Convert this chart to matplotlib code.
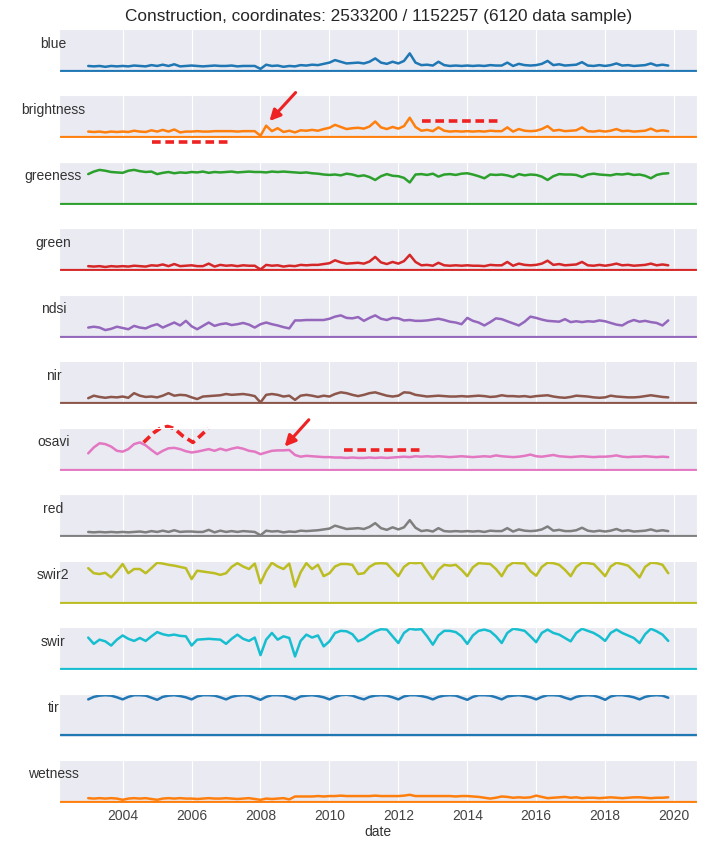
import pandas as pd
import matplotlib
matplotlib.use("Agg")
import matplotlib.pyplot as plt
import matplotlib.dates as mdates
import seaborn as sns

"""
Sample time series for one construction pixel, one panel per band / index.
Values are normalised to the panel range (0 - 1).
"""

dates = pd.date_range("2003-01-01", periods=102, freq="2MS")

bands = ["blue", "brightness", "greeness", "green", "ndsi", "nir",
         "osavi", "red", "swir2", "swir", "tir", "wetness"]

blue = [.12, .11, .12, .10, .12, .11, .12, .11, .13, .12, .11, .14,
        .12, .15, .12, .16, .11, .12, .13, .12, .11, .12, .13, .12,
        .12, .13, .11, .12, .12, .12, .05, .15, .12, .13, .10, .12,
        .11, .14, .13, .15, .14, .17, .20, .26, .22, .18, .19, .20,
        .18, .22, .30, .20, .17, .22, .18, .24, .42, .20, .14, .15,
        .13, .22, .14, .12, .13, .12, .13, .12, .13, .12, .14, .13,
        .13, .20, .12, .17, .14, .13, .14, .17, .24, .14, .16, .13,
        .14, .15, .21, .13, .12, .14, .12, .14, .18, .13, .14, .12,
        .13, .14, .18, .13, .15, .13]

brightness = [.14, .13, .14, .12, .14, .13, .14, .13, .16, .14, .13, .17,
              .14, .18, .14, .19, .12, .14, .14, .15, .14, .14, .15, .15,
              .15, .15, .14, .15, .15, .15, .04, .28, .15, .22, .13, .16,
              .12, .17, .16, .18, .16, .20, .23, .30, .25, .20, .22, .23,
              .21, .26, .38, .24, .20, .25, .21, .27, .47, .25, .16, .18,
              .15, .24, .16, .14, .15, .14, .15, .14, .15, .14, .16, .15,
              .15, .24, .14, .20, .16, .15, .16, .20, .27, .16, .18, .15,
              .16, .17, .24, .15, .14, .16, .14, .16, .20, .15, .16, .14,
              .15, .16, .21, .15, .17, .15]

greeness = [.71, .77, .81, .79, .76, .75, .74, .79, .81, .78, .76, .77,
            .71, .74, .76, .73, .75, .74, .76, .75, .77, .74, .76, .75,
            .76, .77, .75, .76, .77, .76, .76, .75, .77, .76, .77, .76,
            .75, .74, .75, .73, .72, .70, .69, .70, .68, .72, .70, .66,
            .68, .64, .57, .66, .71, .67, .66, .62, .51, .70, .71, .69,
            .72, .65, .70, .71, .69, .72, .73, .70, .66, .61, .70, .69,
            .70, .68, .64, .71, .68, .70, .69, .65, .57, .66, .71, .70,
            .70, .69, .64, .70, .72, .70, .69, .68, .71, .70, .72, .69,
            .70, .67, .61, .69, .72, .73]

green = [.10, .09, .10, .08, .10, .09, .10, .09, .11, .10, .09, .12,
         .11, .14, .10, .15, .10, .11, .12, .10, .10, .16, .09, .13,
         .11, .12, .10, .12, .11, .11, .02, .13, .11, .12, .09, .11,
         .10, .13, .12, .13, .13, .15, .17, .24, .19, .16, .17, .18,
         .16, .21, .32, .19, .15, .20, .16, .22, .37, .20, .12, .13,
         .11, .18, .12, .11, .12, .11, .12, .11, .11, .10, .13, .12,
         .12, .20, .11, .16, .13, .12, .13, .16, .23, .13, .15, .12,
         .13, .14, .20, .12, .11, .13, .11, .13, .16, .12, .13, .11,
         .12, .13, .16, .12, .14, .12]

ndsi = [.22, .24, .22, .16, .19, .24, .21, .18, .26, .22, .20, .26,
        .30, .22, .28, .34, .27, .38, .25, .18, .26, .34, .26, .30,
        .32, .28, .30, .33, .29, .22, .30, .34, .30, .27, .23, .20,
        .39, .39, .40, .40, .40, .40, .43, .48, .51, .45, .44, .47,
        .38, .45, .51, .43, .40, .45, .44, .39, .40, .38, .38, .39,
        .41, .43, .40, .36, .34, .30, .45, .38, .34, .27, .35, .44,
        .42, .37, .32, .27, .36, .48, .45, .41, .38, .37, .36, .42,
        .35, .37, .35, .37, .36, .39, .37, .33, .29, .27, .35, .40,
        .36, .38, .35, .33, .27, .39]

nir = [.12, .18, .15, .13, .15, .14, .16, .13, .24, .18, .15, .16,
       .14, .18, .24, .18, .20, .19, .14, .10, .16, .17, .18, .19,
       .22, .20, .21, .22, .20, .17, .02, .20, .22, .20, .16, .18,
       .08, .18, .20, .18, .15, .18, .16, .22, .26, .24, .20, .17,
       .20, .24, .26, .22, .18, .16, .18, .26, .25, .20, .18, .16,
       .17, .18, .17, .16, .16, .17, .16, .17, .18, .17, .15, .16,
       .19, .17, .17, .16, .17, .15, .17, .18, .19, .16, .14, .13,
       .15, .18, .17, .16, .14, .13, .14, .18, .16, .15, .14, .14,
       .15, .17, .19, .17, .15, .14]

osavi = [.39, .53, .63, .61, .55, .45, .43, .49, .61, .65, .58, .47,
         .37, .45, .51, .52, .49, .44, .41, .43, .46, .49, .45, .50,
         .46, .50, .53, .50, .45, .43, .37, .41, .45, .46, .46, .47,
         .35, .31, .33, .32, .31, .30, .30, .29, .29, .28, .29, .28,
         .28, .29, .28, .29, .28, .29, .30, .31, .30, .32, .31, .32,
         .31, .32, .31, .30, .31, .32, .31, .30, .31, .32, .31, .34,
         .32, .31, .30, .31, .33, .36, .32, .31, .33, .35, .32, .31,
         .30, .31, .32, .31, .30, .31, .31, .32, .34, .31, .30, .31,
         .31, .32, .31, .30, .31, .30]

red = [.10, .09, .10, .09, .10, .09, .10, .09, .10, .11, .09, .12,
       .10, .13, .10, .14, .10, .11, .11, .10, .10, .15, .09, .13,
       .10, .12, .10, .12, .11, .10, .02, .13, .11, .12, .09, .11,
       .10, .13, .12, .13, .14, .16, .18, .25, .21, .17, .18, .19,
       .17, .22, .31, .19, .15, .21, .16, .21, .38, .20, .12, .14,
       .11, .19, .12, .11, .12, .11, .12, .11, .12, .10, .13, .12,
       .12, .19, .11, .16, .13, .12, .13, .16, .23, .13, .15, .12,
       .12, .14, .20, .13, .11, .13, .11, .13, .17, .12, .14, .11,
       .12, .13, .16, .12, .14, .12]

swir2 = [.82, .70, .68, .71, .60, .75, .92, .70, .80, .80, .70, .82,
         .95, .93, .90, .88, .85, .82, .56, .76, .74, .72, .70, .66,
         .70, .85, .94, .86, .80, .93, .46, .75, .95, .86, .80, .93,
         .38, .72, .94, .80, .90, .63, .70, .86, .92, .92, .90, .68,
         .70, .85, .93, .94, .93, .78, .63, .85, .95, .94, .95, .75,
         .56, .78, .90, .88, .90, .78, .63, .84, .94, .93, .92, .80,
         .63, .86, .95, .94, .93, .75, .64, .85, .95, .94, .90, .78,
         .63, .85, .95, .94, .92, .78, .63, .86, .95, .92, .88, .75,
         .60, .85, .95, .94, .90, .70]

swir = [.75, .60, .70, .66, .56, .70, .80, .72, .67, .74, .67, .78,
        .88, .83, .80, .82, .79, .78, .56, .70, .71, .72, .71, .70,
        .60, .72, .82, .72, .67, .75, .33, .70, .86, .70, .78, .74,
        .30, .67, .82, .75, .80, .54, .66, .86, .91, .90, .83, .66,
        .72, .82, .90, .95, .94, .78, .62, .86, .96, .94, .95, .78,
        .58, .80, .91, .91, .88, .78, .60, .80, .91, .94, .90, .78,
        .62, .86, .96, .94, .91, .78, .64, .86, .94, .86, .82, .74,
        .66, .86, .96, .91, .86, .78, .67, .86, .94, .86, .80, .74,
        .62, .83, .96, .90, .82, .67]

tir = [.86, .92, .95, .96, .95, .91, .86, .92, .96, .96, .95, .90,
       .85, .92, .95, .96, .94, .91, .86, .93, .96, .96, .95, .91,
       .86, .92, .95, .96, .95, .90, .85, .92, .96, .96, .95, .91,
       .86, .93, .95, .96, .94, .91, .86, .92, .96, .97, .95, .90,
       .86, .92, .95, .96, .95, .91, .86, .93, .96, .96, .94, .91,
       .86, .92, .95, .96, .95, .90, .85, .92, .96, .96, .95, .91,
       .86, .93, .95, .96, .94, .91, .86, .92, .96, .96, .95, .90,
       .86, .92, .95, .96, .95, .91, .85, .93, .96, .96, .94, .91,
       .86, .92, .95, .96, .95, .90]

wetness = [.09, .08, .09, .08, .09, .08, .05, .08, .09, .08, .09, .07,
           .05, .08, .09, .08, .09, .08, .08, .07, .08, .09, .08, .08,
           .09, .08, .07, .08, .09, .07, .05, .08, .07, .08, .09, .06,
           .13, .13, .13, .13, .14, .13, .14, .14, .15, .14, .14, .14,
           .14, .14, .15, .14, .14, .14, .14, .15, .17, .14, .14, .14,
           .14, .14, .14, .14, .13, .14, .14, .13, .12, .10, .08, .10,
           .13, .12, .10, .11, .10, .11, .15, .12, .09, .10, .11, .12,
           .10, .11, .09, .10, .10, .09, .10, .11, .10, .09, .10, .11,
           .11, .10, .09, .10, .10, .11]

title = "Construction, coordinates: 2533200 / 1152257 (6120 data sample)"

if __name__ == "__main__":
    sns.set_style("darkgrid")
    plt.rcParams['font.family'] = ['Liberation Sans', 'DejaVu Sans']

    series = [blue, brightness, greeness, green, ndsi, nir,
              osavi, red, swir2, swir, tir, wetness]
    colors = ["C{}".format(i % 10) for i in range(len(bands))]

    left, right = 0.084, 0.989
    fig, axes = plt.subplots(len(bands), 1, sharex=True, figsize=(7.05, 8.44), dpi=100,
                             gridspec_kw=dict(left=left, right=right, top=0.9656,
                                              bottom=0.0486, hspace=0.545))

    for ax, name, vals, c in zip(axes, bands, series, colors):
        ax.plot(dates, vals, color=c, lw=1.8)
        ax.axhline(0, color=c, lw=1.6)
        ax.set_ylim(-0.025, 1.0)
        ax.set_yticks([])
        ax.grid(axis="y", visible=False)
        # band name sits left of the panel, drawn on top of the background
        ax.text(-0.009, 0.5, name, transform=ax.transAxes, ha="center", va="bottom",
                fontsize=10, color="#333333", clip_on=False, zorder=10)
        ax.tick_params(axis="x", length=0)

    axes[-1].xaxis.set_major_locator(mdates.YearLocator(2))
    axes[-1].xaxis.set_major_formatter(mdates.DateFormatter("%Y"))
    axes[-1].tick_params(axis="x", labelsize=10, labelcolor="#444444", pad=4)
    axes[-1].set_xlabel("date", fontsize=10, color="#333333", labelpad=2)

    fig.text((left + right) / 2, 1 - 17 / 844., title, ha="center", va="center",
             fontsize=12.4, color="#262626")

    # hand drawn style markup (red arrows and dashes)
    mark = "#ee2222"
    arrow = dict(arrowstyle="-|>", color=mark, lw=2.2, mutation_scale=16, shrinkA=0, shrinkB=0)
    dash = dict(color=mark, lw=2.6, ls=(0, (2.4, 1.3)), clip_on=False, solid_capstyle="butt")

    ax = axes[1]
    ax.annotate("", xy=(pd.Timestamp("2008-04-05"), 0.39),
                xytext=(pd.Timestamp("2009-01-07"), 1.07),
                arrowprops=arrow, annotation_clip=False)
    ax.plot(pd.to_datetime(["2004-11-05", "2007-01-25"]), [-0.10, -0.10], **dash)
    ax.plot(pd.to_datetime(["2012-09-12", "2014-12-01"]), [0.39, 0.39], **dash)

    ax = axes[6]
    wave_x = pd.to_datetime(["2004-08-10", "2004-11-25", "2005-02-05", "2005-04-22",
                             "2005-07-01", "2005-10-01", "2006-01-15", "2006-04-01",
                             "2006-06-25"])
    wave_y = [0.65, 0.88, 0.99, 1.03, 0.98, 0.80, 0.65, 0.80, 0.98]
    ax.plot(wave_x, wave_y, **dash)
    ax.annotate("", xy=(pd.Timestamp("2008-09-13"), 0.55),
                xytext=(pd.Timestamp("2009-05-27"), 1.19),
                arrowprops=arrow, annotation_clip=False)
    ax.plot(pd.to_datetime(["2010-06-03", "2012-09-01"]), [0.48, 0.48], **dash)

    fig.savefig("out.png", dpi=100)
